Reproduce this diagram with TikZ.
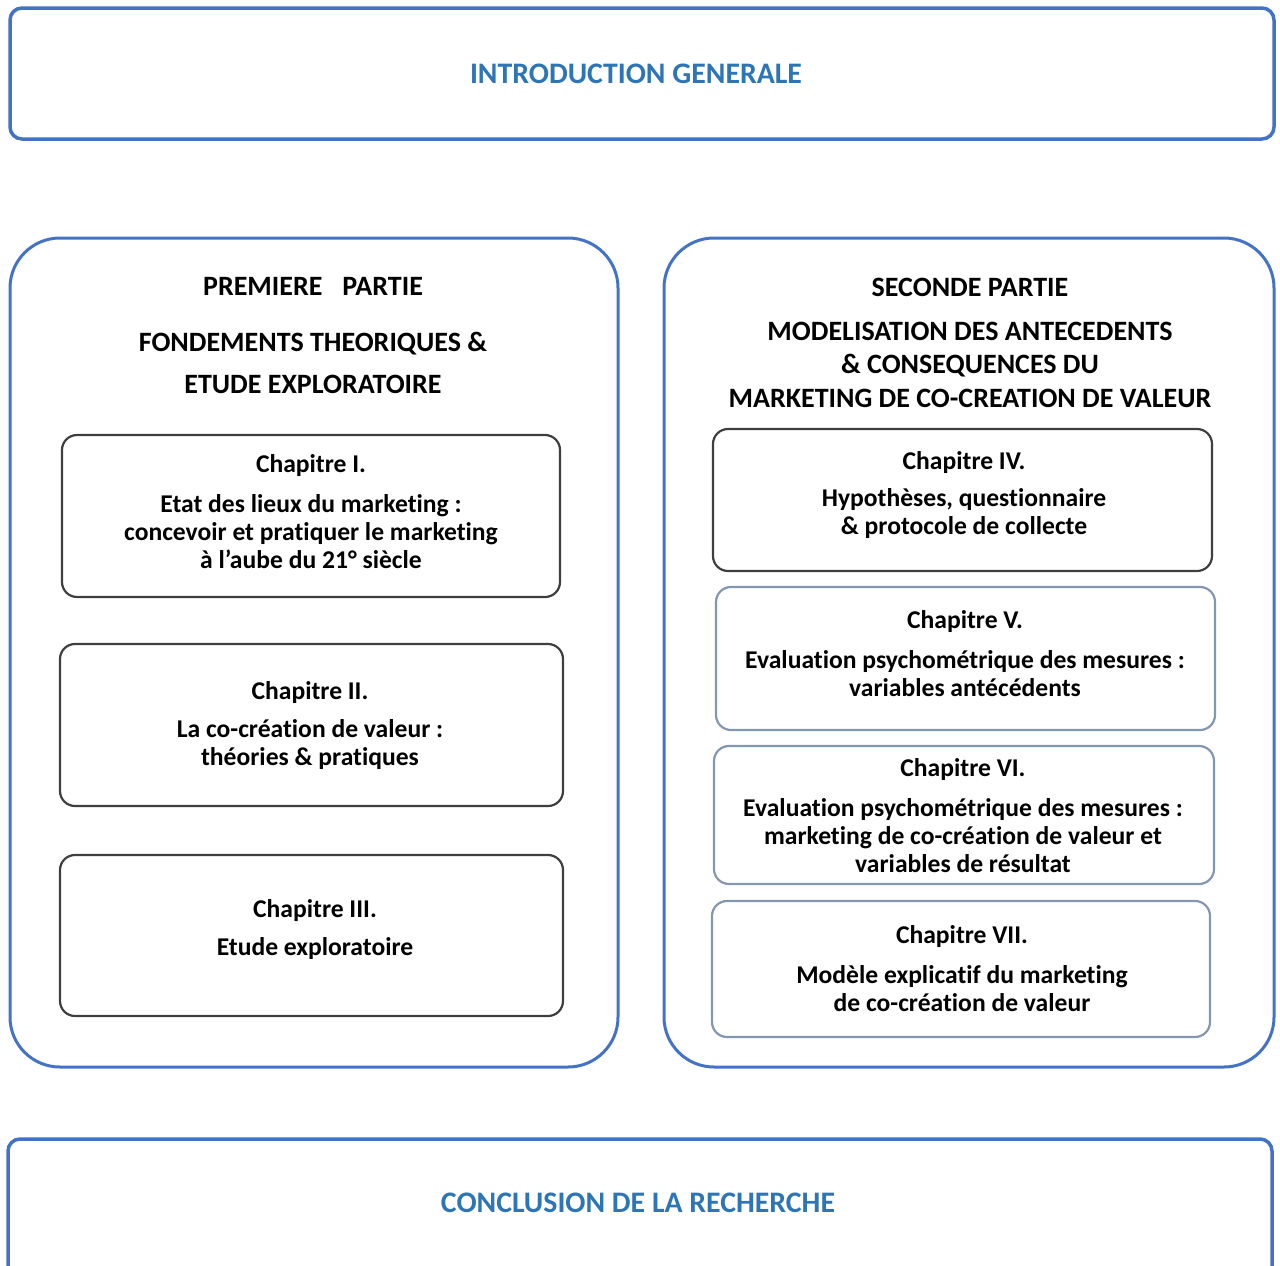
\documentclass[tikz,border=0pt]{standalone}
\usepackage{fontspec}
\setmainfont{Carlito}[Ligatures=NoCommon]
\definecolor{bblue}{HTML}{4472C4}
\definecolor{tblue}{HTML}{2E75B6}
\definecolor{dgray}{HTML}{3F3F3F}
\definecolor{gblue}{HTML}{8497B0}
\begin{document}
\begin{tikzpicture}[x=1pt,y=-1pt,
  bigbox/.style={draw=bblue,line width=3.5pt,rounded corners=12pt,minimum width=#1,inner sep=0pt},
  partbox/.style={draw=bblue,line width=3pt,rounded corners=50pt,inner sep=0pt},
  chapbox/.style={draw=dgray,line width=2.2pt,rounded corners=15pt,inner sep=0pt},
  chapboxb/.style={draw=gblue,line width=2.2pt,rounded corners=15pt,inner sep=0pt},
  bluetxt/.style={text=tblue,font=\fontsize{29.8}{34}\selectfont\bfseries,inner sep=0pt},
  ttl/.style={font=\fontsize{28}{34}\selectfont\bfseries,align=center,inner sep=0pt},
  chtxt/.style={font=\fontsize{25.6}{28}\selectfont\bfseries,align=center,inner sep=0pt}]
\useasboundingbox (0,0) rectangle (1280,1266);
% top and bottom
\node[bigbox=1264pt,minimum height=131pt] (intro) at (642,73.5) {};
\node[bluetxt] (introt) at (636,74) {INTRODUCTION GENERALE};
\node[bigbox=1264pt,minimum height=160pt] (concl) at (640,1219) {};
\node[bluetxt] (conclt) at (638,1203) {CONCLUSION DE LA RECHERCHE};
% parts
\node[partbox,minimum width=608pt,minimum height=829pt] (p1) at (314,652.5) {};
\node[partbox,minimum width=610pt,minimum height=829pt] (p2) at (969,652.5) {};
\node[ttl] (p1a) at (313,286) {PREMIERE\hspace{20pt}PARTIE};
\node[font=\fontsize{28}{42}\selectfont\bfseries,align=center,inner sep=0pt] (p1b) at (313,363) {FONDEMENTS THEORIQUES \&\\ETUDE EXPLORATOIRE};
\node[ttl] (p2a) at (970,287) {SECONDE PARTIE};
\node[font=\fontsize{28}{33.5}\selectfont\bfseries,align=center,inner sep=0pt] (p2b) at (970,364.5) {MODELISATION DES ANTECEDENTS\\\& CONSEQUENCES DU\\MARKETING DE CO-CREATION DE VALEUR};
% left chapters
\node[chapbox,minimum width=498pt,minimum height=162pt] (c1) at (311,516) {};
\node[chtxt] (c1t) at (311,465.5) {Chapitre I.};
\node[chtxt] (c1b) at (311,532) {Etat des lieux du marketing :\\concevoir et pratiquer le marketing\\à l'aube du 21° siècle};
\node[chapbox,minimum width=503pt,minimum height=162pt] (c2) at (311.5,725) {};
\node[chtxt] (c2t) at (310,692.5) {Chapitre II.};
\node[chtxt] (c2b) at (310,745) {La co-création de valeur :\\théories \& pratiques};
\node[chapbox,minimum width=503pt,minimum height=161pt] (c3) at (311.5,935.5) {};
\node[chtxt] (c3t) at (315,910.5) {Chapitre III.};
\node[chtxt] (c3b) at (315,949) {Etude exploratoire};
% right chapters
\node[chapbox,minimum width=499pt,minimum height=142pt] (c4) at (962.5,500) {};
\node[chtxt] (c4t) at (964,462.5) {Chapitre IV.};
\node[chtxt] (c4b) at (964,514) {Hypothèses, questionnaire\\\& protocole de collecte};
\node[chapboxb,minimum width=499pt,minimum height=143pt] (c5) at (965.5,658.5) {};
\node[chtxt] (c5t) at (965,621.5) {Chapitre V.};
\node[chtxt] (c5b) at (965,674) {Evaluation psychométrique des mesures :\\variables antécédents};
\node[chapboxb,minimum width=500pt,minimum height=138pt] (c6) at (964,815) {};
\node[chtxt] (c6t) at (963,769.5) {Chapitre VI.};
\node[chtxt] (c6b) at (963,836) {Evaluation psychométrique des mesures :\\marketing de co-création de valeur et\\variables de résultat};
\node[chapboxb,minimum width=498pt,minimum height=136pt] (c7) at (961,969) {};
\node[chtxt] (c7t) at (962,936.5) {Chapitre VII.};
\node[chtxt] (c7b) at (962,989) {Modèle explicatif du marketing\\de co-création de valeur};
\end{tikzpicture}
\end{document}
